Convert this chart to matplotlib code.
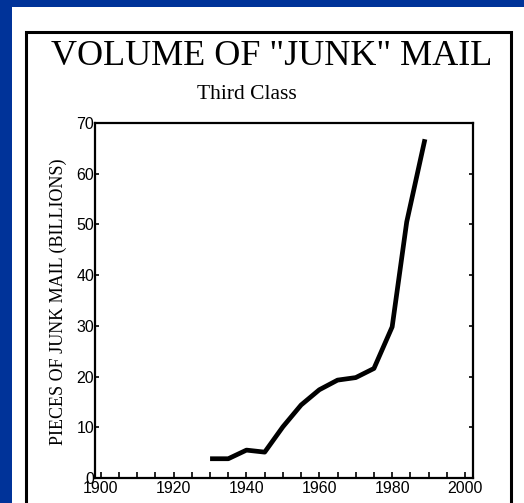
import matplotlib
matplotlib.use("Agg")
import matplotlib.pyplot as plt
from matplotlib.patches import Rectangle
from matplotlib.ticker import MultipleLocator

# third class mail volume, billions of pieces
years = [1930, 1935, 1940, 1945, 1950, 1955, 1960, 1965, 1970, 1975, 1980, 1984, 1989]
volume = [3.8, 3.8, 5.5, 5.1, 10.1, 14.4, 17.4, 19.3, 19.8, 21.6, 29.8, 50.5, 66.8]
x_ticks = [1900, 1920, 1940, 1960, 1980, 2000]
y_ticks = [0, 10, 20, 30, 40, 50, 60, 70]

W, H = 524, 503
fig = plt.figure(figsize=(W / 100, H / 100), dpi=100, facecolor="#003399")

# white card and the black frame drawn on it
fig.patches.append(Rectangle((12 / W, 0), (W - 12) / W, (H - 7) / H,
                             transform=fig.transFigure, facecolor="white", edgecolor="none", zorder=-2))
fig.patches.append(Rectangle((26 / W, -0.02), (511 - 26) / W, (H - 32) / H + 0.02,
                             transform=fig.transFigure, facecolor="none", edgecolor="black",
                             lw=2.2, zorder=-1))

ax = fig.add_axes([95 / W, (H - 478) / H, (473 - 95) / W, (478 - 123) / H])
ax.set_zorder(2)
ax.set_facecolor("white")
ax.plot(years, volume, color="black", lw=3.4, solid_capstyle="butt", solid_joinstyle="round")

ax.set_xlim(1898.4, 2002.2)
ax.set_ylim(0, 70)
ax.set_xticks(x_ticks)
ax.set_yticks(y_ticks)
ax.xaxis.set_minor_locator(MultipleLocator(5))
ax.tick_params(axis="x", which="both", direction="in", length=4, width=1.2, pad=2, labelsize=11.5)
ax.tick_params(axis="y", which="both", direction="in", length=3, width=1.2, pad=0.5, labelsize=11.5,
               right=True)
for lab in ax.get_xticklabels() + ax.get_yticklabels():
    lab.set_family("Liberation Sans")
for s in ax.spines.values():
    s.set_linewidth(1.6)

fig.text(272 / W, (H - 65) / H, 'VOLUME OF "JUNK" MAIL', ha="center", va="baseline",
         family="Liberation Serif", fontsize=26)
fig.text(247 / W, (H - 99) / H, "Third Class", ha="center", va="baseline",
         family="Liberation Serif", fontsize=15.5)
fig.text(58 / W, (H - 302) / H, "PIECES OF JUNK MAIL (BILLIONS)", ha="center", va="center",
         rotation=90, family="Liberation Serif", fontsize=13)

fig.savefig("out.png", dpi=100, facecolor=fig.get_facecolor())
